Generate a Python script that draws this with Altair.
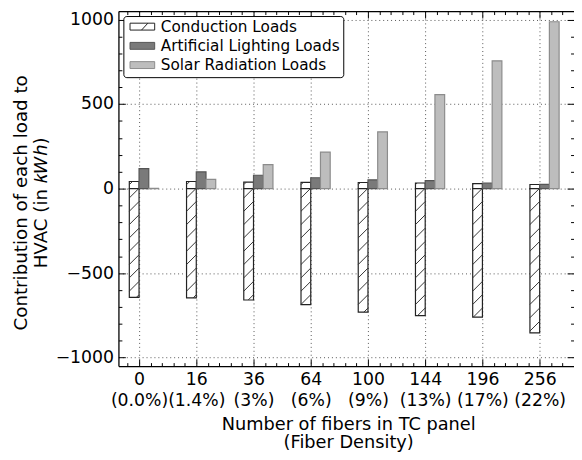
import altair as alt
import pandas as pd
import numpy as np

# ---- data ----
fibers = ["0", "16", "36", "64", "100", "144", "196", "256"]
density = ["(0.0%)", "(1.4%)", "(3%)", "(6%)", "(9%)", "(13%)", "(17%)", "(22%)"]
cond_gain = [42, 42, 38, 37, 36, 33, 29, 24]
cond_loss = [-644, -647, -659, -686, -731, -752, -760, -854]
lighting = [118, 99, 79, 64, 52, 47, 33, 25]
solar = [2, 54, 142, 216, 336, 556, 756, 987]
series_names = ["Conduction Loads", "Artificial Lighting Loads", "Solar Radiation Loads"]
fill_colors = ["#ffffff", "#7a7a7a", "#bdbdbd"]
edge_colors = ["#222222", "#555555", "#8c8c8c"]

# ---- layout / style constants ----
W, H = 462, 360
XDOM = [-0.36, 7.6]
YDOM = [-1050, 1050]
BW = 0.17
PX = W / (XDOM[1] - XDOM[0])
PY = H / (YDOM[1] - YDOM[0])
FONT = "DejaVu Sans"

rows = []
for i in range(len(fibers)):
    rows.append(dict(idx=i, series=series_names[0], slot=-1, lo=0, hi=cond_gain[i]))
    rows.append(dict(idx=i, series=series_names[0], slot=-1, lo=cond_loss[i], hi=0))
    rows.append(dict(idx=i, series=series_names[1], slot=0, lo=0, hi=lighting[i]))
    rows.append(dict(idx=i, series=series_names[2], slot=1, lo=0, hi=solar[i]))
bars = pd.DataFrame(rows)

# hatch segments ('/') for the conduction bars, clipped to each bar
hatch = []
S = 13.5
wpx = BW * PX
for i in range(len(fibers)):
    x0 = i - BW
    for lo, hi in [(0, cond_gain[i]), (cond_loss[i], 0)]:
        vlo, vhi = lo * PY, hi * PY
        n0 = int(np.floor((vlo - wpx) / S)) - 1
        n1 = int(np.ceil(vhi / S)) + 1
        for n in range(n0, n1 + 1):
            c = n * S + 4
            us = max(0.0, vlo - c)
            ue = min(wpx, vhi - c)
            if ue - us > 0.8:
                hatch.append(dict(hx=x0 + us / PX, hy=(us + c) / PY,
                                  hx2=x0 + ue / PX, hy2=(ue + c) / PY))
hatch_df = pd.DataFrame(hatch)

xscale = alt.Scale(domain=XDOM, nice=False, zero=False)
yscale = alt.Scale(domain=YDOM, nice=False, zero=False)

label_expr = "[" + ",".join('["%s","%s"]' % (f, d) for f, d in zip(fibers, density)) + "][round(datum.value)]"
major_x = list(range(len(fibers)))
minor_x = [round(v, 1) for v in np.arange(-0.2, 7.61, 0.2) if abs(v - round(v)) > 1e-6]
major_y = [-1000, -500, 0, 500, 1000]
minor_y = [v for v in range(-1000, 1001, 100) if v % 500 != 0]

fill_scale = alt.Scale(domain=series_names, range=fill_colors)
stroke_scale = alt.Scale(domain=series_names, range=edge_colors)
# legend swatches: 25 x 7 px boxes drawn with a small nominal symbol size
rect_path = "M-3.125,-0.875L3.125,-0.875L3.125,0.875L-3.125,0.875Z"
cond_path = rect_path + "M-0.2,0.875L1.4,-0.875"
shape_scale = alt.Scale(domain=series_names, range=[cond_path, rect_path, rect_path])

base = alt.Chart(bars).transform_calculate(
    xa="datum.idx + datum.slot * %f" % BW,
    xb="datum.idx + datum.slot * %f + %f" % (BW, BW),
)

x_main = alt.X("xa:Q", scale=xscale, axis=alt.Axis(
    values=major_x, labelExpr=label_expr, grid=True, gridColor="#555555",
    gridDash=[1, 3], gridWidth=1, ticks=False, tickSize=0, domain=True,
    domainColor="black", domainWidth=1.3,
    labelFontSize=17.5, labelFont=FONT, labelColor="black", labelLineHeight=21,
    labelPadding=5, labelFlush=False, labelOverlap=False,
    title=["Number of fibers in TC panel", "(Fiber Density)"],
    titleFontSize=18, titleFont=FONT, titleFontWeight="normal", titleColor="black",
    titleLineHeight=19, titleBaseline="top", titleY=50, titleX=233, orient="bottom"))
y_main = alt.Y("lo:Q", scale=yscale, axis=alt.Axis(
    values=major_y, format="d", grid=True, gridColor="#555555", gridDash=[1, 3], gridWidth=1,
    ticks=False, tickSize=0, domain=True, domainColor="black", domainWidth=1.3,
    labelFontSize=17.5, labelFont=FONT,
    labelColor="black", labelPadding=5, labelFlush=False, labelOverlap=False,
    title=["Contribution of each load to", "HVAC (in 𝑘𝑊ℎ)"],
    titleFontSize=18.5, titleFont=FONT, titleFontWeight="normal", titleColor="black",
    titleLineHeight=20, titleBaseline="alphabetic", titleAngle=270,
    titleX=-93, titleY=194, orient="left"))


def bar_series(k, with_axes):
    ch = base.transform_filter(alt.datum.series == series_names[k]).mark_rect(
        fill=fill_colors[k], stroke=edge_colors[k], strokeWidth=1.2)
    if with_axes:
        return ch.encode(x=x_main, x2="xb:Q", y=y_main, y2="hi:Q")
    return ch.encode(
        x=alt.X("xa:Q", scale=xscale, axis=None), x2="xb:Q",
        y=alt.Y("lo:Q", scale=yscale, axis=None), y2="hi:Q")


bars_cond = bar_series(0, True)
bars_light = bar_series(1, False)
bars_solar = bar_series(2, False)

hatch_layer = alt.Chart(hatch_df).mark_rule(color="#333333", strokeWidth=1).encode(
    x=alt.X("hx:Q", scale=xscale, axis=alt.Axis(
        orient="top", domain=True, domainColor="black", domainWidth=1.3, ticks=False,
        labels=False, grid=False, title=None)),
    x2="hx2:Q",
    y=alt.Y("hy:Q", scale=yscale, axis=None),
    y2="hy2:Q",
)


def tick_layer(xorient, yorient, xvals, yvals, size):
    return alt.Chart(bars).mark_point(opacity=0, size=1).encode(
        x=alt.X("idx:Q", scale=xscale, axis=alt.Axis(
            orient=xorient, values=xvals, offset=-size, tickSize=size, tickColor="black",
            tickWidth=1, domain=False, labels=False, grid=False, title=None)),
        y=alt.Y("lo:Q", scale=yscale, axis=alt.Axis(
            orient=yorient, values=yvals, offset=-size, tickSize=size, tickColor="black",
            tickWidth=1, domain=False, labels=False, grid=False, title=None)),
    )


t1 = tick_layer("bottom", "left", major_x, major_y, 7)
t2 = tick_layer("bottom", "left", minor_x, minor_y, 3.5)
t3 = tick_layer("top", "right", major_x, major_y, 7)
t4 = tick_layer("top", "right", minor_x, minor_y, 3.5)

# legend carrier: points placed far outside the clipped plot area
legend_layer = alt.Chart(bars).transform_calculate(
    away="datum.idx + 1000"
).mark_point(filled=True, opacity=1, size=64, strokeWidth=1, clip=True).encode(
    x=alt.X("away:Q", scale=xscale, axis=None),
    y=alt.Y("lo:Q", scale=yscale, axis=None),
    fill=alt.Fill("series:N", scale=fill_scale, legend=alt.Legend(title=None)),
    stroke=alt.Stroke("series:N", scale=stroke_scale, legend=alt.Legend(title=None)),
    shape=alt.Shape("series:N", scale=shape_scale, legend=alt.Legend(title=None)),
)

chart = alt.layer(bars_cond, bars_light, bars_solar, hatch_layer, t1, t2, t3, t4,
                  legend_layer).resolve_axis(
    x="independent", y="independent"
).properties(
    width=W, height=H,
    autosize=alt.AutoSizeParams(type="none"),
    padding={"left": 112, "top": 0, "right": 0, "bottom": 84},
).configure(font=FONT).configure_view(
    strokeWidth=0
).configure_legend(
    orient="top-left", offset=5, padding=3, strokeColor="black", cornerRadius=3,
    strokeWidth=1, fillColor="white", labelFontSize=15.5, labelFont=FONT,
    labelColor="black", labelLimit=0,
    symbolSize=64, symbolStrokeWidth=1, symbolOffset=8.5, labelOffset=11, rowPadding=2.5,
)

chart.save("out.html", embed_options={"renderer": "svg", "actions": False})
